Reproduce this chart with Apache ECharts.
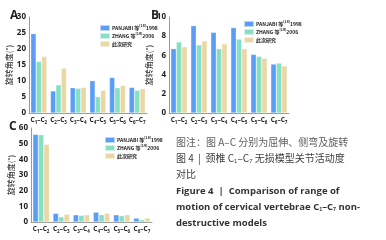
<!DOCTYPE html>
<html>
<head>
<meta charset="utf-8">
<script src="https://cdn.jsdelivr.net/npm/echarts@6/dist/echarts.min.js"></script>
<style>
html, body { margin: 0; padding: 0; background: #fff; }
#chart { width: 386px; height: 240px; }
</style>
</head>
<body>
<div id="chart"></div>
<script>
// 节段
const categories = ['C1–C2', 'C2–C3', 'C3–C4', 'C4–C5', 'C5–C6', 'C6–C7'];
const seriesNames = ['PANJABI 等[18]1998', 'ZHANG 等[19]2006', '此次研究'];
// A 屈伸
const flexPanjabi = [24.8, 6.9, 7.9, 10.1, 11.1, 8.0];
const flexZhang = [16.1, 8.8, 7.7, 5.1, 7.9, 7.1];
const flexStudy = [17.7, 14.0, 8.0, 7.1, 8.6, 7.6];
// B 侧弯
const bendPanjabi = [6.7, 9.1, 8.4, 8.9, 6.1, 5.1];
const bendZhang = [7.4, 7.1, 6.7, 7.7, 5.9, 5.2];
const bendStudy = [6.9, 7.5, 7.2, 6.7, 5.7, 4.9];
// C 旋转
const rotPanjabi = [55.9, 5.5, 4.6, 6.3, 4.6, 2.5];
const rotZhang = [55.7, 3.3, 4.2, 4.6, 4.0, 1.5];
const rotStudy = [49.6, 5.0, 4.6, 5.6, 4.7, 2.6];
// y 轴刻度
const yTicksA = [0, 30, 5];
const yTicksB = [0, 10, 2];
const yTicksC = [0, 60, 10];

const colors = ['#5b9cf6', '#86dfc3', '#e9d8a6'];
const cjk = '"Noto Sans CJK SC", "Open Sans", sans-serif';

let chart = echarts.init(document.getElementById('chart'));

function subLabel(v) {
    return v.replace(/C(\d)/g, 'C{s|$1}');
}
function legendLabel(name) {
    let m = name.match(/^(.*)\[(\d+)\](\d+)$/);
    if (!m) return name;
    return m[1] + '{sup|[' + m[2] + ']}' + m[3];
}

function makeGrid(left, top, width, height) {
    return { left: left, top: top, width: width, height: height, containLabel: false };
}
function makeX(idx) {
    return {
        type: 'category',
        gridIndex: idx,
        data: categories,
        axisLine: { lineStyle: { color: '#9a9a9a', width: 1 } },
        axisTick: { alignWithLabel: true, length: 2, lineStyle: { color: '#9a9a9a' } },
        axisLabel: {
            interval: 0,
            margin: 3,
            fontSize: 6.5,
            fontWeight: 'bold',
            color: '#222',
            fontFamily: 'Open Sans',
            formatter: subLabel,
            rich: { s: { fontSize: 4.5, fontWeight: 'bold', color: '#222', padding: [4, 0, 0, 0] } }
        }
    };
}
function makeY(idx, ticks) {
    return {
        type: 'value',
        gridIndex: idx,
        min: ticks[0],
        max: ticks[1],
        interval: ticks[2],
        name: '旋转角度(°)',
        nameLocation: 'middle',
        nameRotate: 90,
        nameGap: 13,
        nameTextStyle: { fontSize: 8, color: '#222', fontFamily: cjk },
        axisLine: { show: true, lineStyle: { color: '#9a9a9a', width: 1 } },
        axisTick: { show: false },
        splitLine: { show: false },
        axisLabel: { margin: 3, fontSize: 8, fontWeight: 'bold', color: '#222', fontFamily: 'Open Sans' }
    };
}
function makeLegend(left, top) {
    return {
        left: left,
        top: top,
        orient: 'vertical',
        itemWidth: 10,
        itemHeight: 6,
        itemGap: 0,
        icon: 'rect',
        data: seriesNames,
        selectedMode: false,
        formatter: legendLabel,
        textStyle: {
            fontSize: 5,
            color: '#222',
            fontWeight: 'bold',
            padding: [0, 0, 0, -3],
            fontFamily: cjk,
            rich: { sup: { fontSize: 3.5, color: '#222', padding: [0, 0, 4, 0] } }
        }
    };
}
function makeSeries(idx, data, colorIdx) {
    return {
        type: 'bar',
        name: seriesNames[colorIdx],
        xAxisIndex: idx,
        yAxisIndex: idx,
        data: data,
        barGap: '0%',
        barCategoryGap: '18%',
        itemStyle: { color: colors[colorIdx], borderColor: 'rgba(255,255,255,0.6)', borderWidth: 0.5 }
    };
}

let options = {
    animation: false,
    color: colors,
    grid: [makeGrid(29, 17, 118, 96), makeGrid(169, 17, 120, 96), makeGrid(31, 128, 121, 94)],
    xAxis: [makeX(0), makeX(1), makeX(2)],
    yAxis: [makeY(0, yTicksA), makeY(1, yTicksB), makeY(2, yTicksC)],
    legend: [makeLegend(94, 19), makeLegend(238, 15), makeLegend(99, 131)],
    series: [
        makeSeries(0, flexPanjabi, 0), makeSeries(0, flexZhang, 1), makeSeries(0, flexStudy, 2),
        makeSeries(1, bendPanjabi, 0), makeSeries(1, bendZhang, 1), makeSeries(1, bendStudy, 2),
        makeSeries(2, rotPanjabi, 0), makeSeries(2, rotZhang, 1), makeSeries(2, rotStudy, 2)
    ],
    graphic: [
        { type: 'text', left: 10, top: 10, style: { text: 'A', fontSize: 12, fontWeight: 'bold', fill: '#222', fontFamily: 'Open Sans' } },
        { type: 'text', left: 151, top: 10, style: { text: 'B', fontSize: 12, fontWeight: 'bold', fill: '#222', fontFamily: 'Open Sans' } },
        { type: 'text', left: 9, top: 121, style: { text: 'C', fontSize: 12, fontWeight: 'bold', fill: '#222', fontFamily: 'Open Sans' } },
        // 图注
        { type: 'text', left: 176, top: 137, style: { text: '图注：图 A–C 分别为屈伸、侧弯及旋转', fontSize: 10, fill: '#5e5e5e', fontFamily: cjk } },
        { type: 'text', left: 176, top: 153, style: {
            text: '图 4  |  颈椎 C{s|1}–C{s|7} 无损模型关节活动度', fontSize: 10, fill: '#3e3e3e', fontFamily: cjk,
            rich: { s: { fontSize: 6, fill: '#3e3e3e', padding: [6, 0, 0, 0] } }
        } },
        { type: 'text', left: 176, top: 169, style: { text: '对比', fontSize: 10, fill: '#3e3e3e', fontFamily: cjk } },
        { type: 'text', left: 176, top: 186, style: { text: 'Figure 4  |  Comparison of range of', fontSize: 9.5, fontWeight: 'bold', fill: '#333', fontFamily: 'Open Sans' } },
        { type: 'text', left: 176, top: 202, style: {
            text: 'motion of cervical vertebrae C{s|1}–C{s|7} non-', fontSize: 9.5, fontWeight: 'bold', fill: '#333', fontFamily: 'Open Sans',
            rich: { s: { fontSize: 5.5, fontWeight: 'bold', fill: '#333', padding: [5, 0, 0, 0] } }
        } },
        { type: 'text', left: 176, top: 218, style: { text: 'destructive models', fontSize: 9.5, fontWeight: 'bold', fill: '#333', fontFamily: 'Open Sans' } }
    ]
};
chart.setOption(options);
</script>
</body>
</html>
